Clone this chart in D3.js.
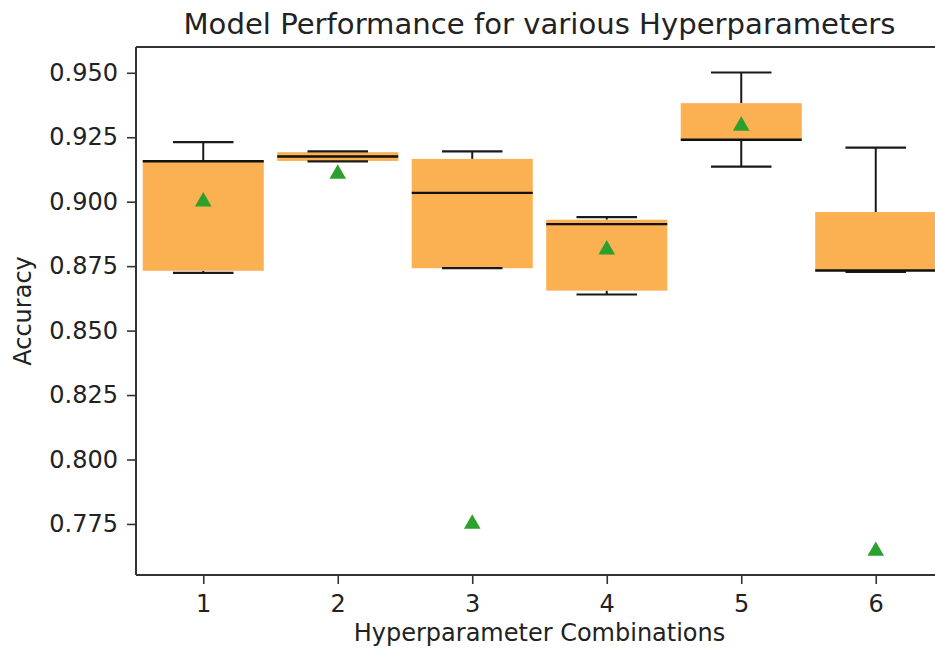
<!DOCTYPE html>
<html>
<head>
<meta charset="utf-8">
<script src="https://cdn.jsdelivr.net/npm/d3@7"></script>
<style>
  html, body { margin: 0; padding: 0; background: #fff; }
  svg { display: block; font-family: "DejaVu Sans", sans-serif; }
</style>
</head>
<body>
<div id="chart"></div>
<script>
// box statistics per hyperparameter combination
var combos = [1, 2, 3, 4, 5, 6];
var whiskerLow = [0.8724, 0.9156, 0.8742, 0.8640, 0.9136, 0.8728];
var q1 = [0.8732, 0.9158, 0.8742, 0.8655, 0.9240, 0.8733];
var median = [0.9157, 0.9175, 0.9034, 0.8913, 0.9240, 0.8733];
var q3 = [0.9157, 0.9192, 0.9166, 0.8930, 0.9382, 0.8960];
var whiskerHigh = [0.9231, 0.9195, 0.9195, 0.8940, 0.9501, 0.9210];
var means = [0.9000, 0.9108, 0.7750, 0.8814, 0.9294, 0.7645];
var yTicks = [0.775, 0.800, 0.825, 0.850, 0.875, 0.900, 0.925, 0.950];

var W = 935, H = 655;
var margin = {left: 136, top: 47};
var plotW = 807, plotH = 528;

var rows = combos.map(function (c, i) {
    return {c: c, lo: whiskerLow[i], q1: q1[i], med: median[i], q3: q3[i], hi: whiskerHigh[i], mean: means[i]};
});

var svg = d3.select("#chart").append("svg")
    .attr("width", W)
    .attr("height", H);

var x = d3.scaleLinear().domain([0.5, 6.5]).range([0, plotW]);
var y = d3.scaleLinear().domain([0.7552, 0.9600]).range([plotH, 0]);

var g = svg.append("g").attr("transform", "translate(" + margin.left + "," + margin.top + ")");

// box width 0.9 in data units, caps half of that
var boxW = x(1.4) - x(0.5);
var capW = boxW / 2;

var box = g.selectAll(".box").data(rows).enter().append("g").attr("class", "box");

// whiskers
box.append("line")
    .attr("x1", function (d) { return x(d.c); }).attr("x2", function (d) { return x(d.c); })
    .attr("y1", function (d) { return y(d.hi); }).attr("y2", function (d) { return y(d.q3); })
    .attr("stroke", "#1a1a1a").attr("stroke-width", 2);
box.append("line")
    .attr("x1", function (d) { return x(d.c); }).attr("x2", function (d) { return x(d.c); })
    .attr("y1", function (d) { return y(d.q1); }).attr("y2", function (d) { return y(d.lo); })
    .attr("stroke", "#1a1a1a").attr("stroke-width", 2);

// boxes
box.append("rect")
    .attr("x", function (d) { return x(d.c) - boxW / 2; })
    .attr("width", boxW)
    .attr("y", function (d) { return y(d.q3); })
    .attr("height", function (d) { return Math.max(1, y(d.q1) - y(d.q3)); })
    .attr("fill", "#fbb052");

// caps
box.append("line")
    .attr("x1", function (d) { return x(d.c) - capW / 2; }).attr("x2", function (d) { return x(d.c) + capW / 2; })
    .attr("y1", function (d) { return y(d.hi); }).attr("y2", function (d) { return y(d.hi); })
    .attr("stroke", "#1a1a1a").attr("stroke-width", 2.2);
box.append("line")
    .attr("x1", function (d) { return x(d.c) - capW / 2; }).attr("x2", function (d) { return x(d.c) + capW / 2; })
    .attr("y1", function (d) { return y(d.lo); }).attr("y2", function (d) { return y(d.lo); })
    .attr("stroke", "#1a1a1a").attr("stroke-width", 2.2);

// median
box.append("line")
    .attr("x1", function (d) { return x(d.c) - boxW / 2; }).attr("x2", function (d) { return x(d.c) + boxW / 2; })
    .attr("y1", function (d) { return y(d.med); }).attr("y2", function (d) { return y(d.med); })
    .attr("stroke", "#111").attr("stroke-width", 2.4);

// means
box.append("path")
    .attr("d", d3.symbol().type(d3.symbolTriangle).size(120))
    .attr("transform", function (d) { return "translate(" + x(d.c) + "," + y(d.mean) + ")"; })
    .attr("fill", "#2ca02c");

// axes
var xAxis = g.append("g").attr("transform", "translate(0," + plotH + ")")
    .call(d3.axisBottom(x).tickValues(combos).tickFormat(d3.format("d")).tickSize(9).tickPadding(11));
var yAxis = g.append("g")
    .call(d3.axisLeft(y).tickValues(yTicks).tickFormat(d3.format(".3f")).tickSize(9).tickPadding(9));

[xAxis, yAxis].forEach(function (a) {
    a.select(".domain").remove();
    a.selectAll(".tick line").attr("stroke", "#333").attr("stroke-width", 1.6);
    a.selectAll(".tick text").attr("fill", "#222").style("font-size", "24px").style("font-family", "DejaVu Sans");
});

// spines
g.append("line").attr("x1", 0).attr("x2", 0).attr("y1", 0).attr("y2", plotH).attr("stroke", "#333").attr("stroke-width", 2);
g.append("line").attr("x1", 0).attr("x2", plotW).attr("y1", 0).attr("y2", 0).attr("stroke", "#333").attr("stroke-width", 2);
g.append("line").attr("x1", 0).attr("x2", plotW).attr("y1", plotH).attr("y2", plotH).attr("stroke", "#333").attr("stroke-width", 2);
g.append("line").attr("x1", plotW).attr("x2", plotW).attr("y1", 0).attr("y2", plotH).attr("stroke", "#333").attr("stroke-width", 2);

// title and labels
svg.append("text")
    .attr("x", margin.left + plotW / 2).attr("y", 34)
    .attr("text-anchor", "middle").attr("fill", "#222")
    .attr("textLength", 712).attr("lengthAdjust", "spacingAndGlyphs")
    .style("font-size", "29px")
    .text("Model Performance for various Hyperparameters");

svg.append("text")
    .attr("x", margin.left + plotW / 2).attr("y", 641)
    .attr("text-anchor", "middle").attr("fill", "#222")
    .style("font-size", "24px")
    .text("Hyperparameter Combinations");

svg.append("text")
    .attr("transform", "translate(31," + (margin.top + plotH / 2) + ") rotate(-90)")
    .attr("text-anchor", "middle").attr("fill", "#222")
    .style("font-size", "24px")
    .text("Accuracy");
</script>
</body>
</html>
